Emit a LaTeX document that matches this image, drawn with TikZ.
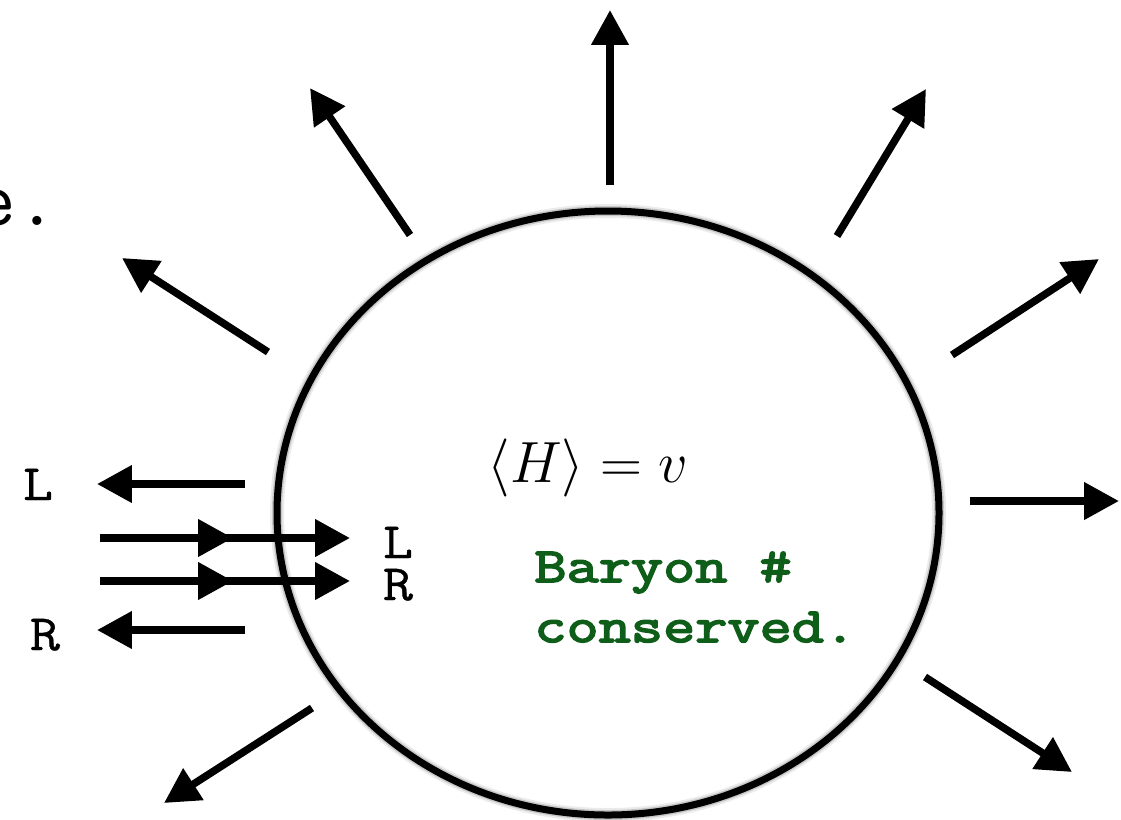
\documentclass[tikz,border=0pt]{standalone}
\usepackage{fontspec}
\newfontfamily\grtt{Latin Modern Mono}[FakeBold=3.5, FakeStretch=1.27]
\newfontfamily\labtt{Latin Modern Mono}[FakeBold=0.8, FakeStretch=1.15]
\usetikzlibrary{arrows.meta}
\definecolor{bgreen}{RGB}{14,94,26}
\begin{document}
\begin{tikzpicture}[x=0.02cm, y=-0.02cm,
  ray/.style={line width=0.15cm, -{Triangle[length=0.7cm, width=0.72cm]}},
  rim/.style={line width=0.14cm, black},
  ttlab/.style={inner sep=0, anchor=base, font=\fontsize{29pt}{34pt}\selectfont\labtt},
  grtext/.style={inner sep=0, anchor=base west, text=bgreen, font=\fontsize{28pt}{34pt}\selectfont\grtt}]
\useasboundingbox (0,0) rectangle (1121,819);
\clip (0,0) rectangle (1121,819);
% cut-off text at top left
\node[inner sep=0, anchor=base east, font=\fontsize{46pt}{50pt}\selectfont\ttfamily] (cut) at (58,225) {e.};
% bubble
\coordinate (c) at (608,513);
\draw[line width=0.28cm, black!8] (c) ellipse [x radius=331, y radius=302];
\draw[line width=0.2cm, black!22] (c) ellipse [x radius=331, y radius=302];
\draw[rim] (c) ellipse [x radius=331, y radius=302];
% outgoing rays
\coordinate (s1) at (610,185);  \coordinate (t1) at (610,10);
\coordinate (s2) at (410,235);  \coordinate (t2) at (310,88);
\coordinate (s3) at (268,352);  \coordinate (t3) at (122,258);
\coordinate (s4) at (837,236);  \coordinate (t4) at (926,89);
\coordinate (s5) at (952,355);  \coordinate (t5) at (1099,259);
\coordinate (s6) at (970,501);  \coordinate (t6) at (1119,501);
\coordinate (s7) at (925,677);  \coordinate (t7) at (1072,772);
\coordinate (s8) at (312,708);  \coordinate (t8) at (164,803);
\foreach \i in {1,...,8} \draw[ray] (s\i) -- (t\i);
% reflected L and R
\coordinate (lr1) at (245,484); \coordinate (lr2) at (97,484);
\coordinate (rr1) at (245,630); \coordinate (rr2) at (97,630);
\draw[ray] (lr1) -- (lr2);
\draw[ray] (rr1) -- (rr2);
% transmitted L and R
\coordinate (a1) at (100,538); \coordinate (m1) at (233,538); \coordinate (b1) at (350,538);
\coordinate (a2) at (100,581); \coordinate (m2) at (233,581); \coordinate (b2) at (350,581);
\draw[ray] (a1) -- (b1);
\draw[ray] (a1) -- (m1);
\draw[ray] (a2) -- (b2);
\draw[ray] (a2) -- (m2);
% labels
\node[ttlab] (L1) at (38,500) {L};
\node[ttlab] (R1) at (45,650) {R};
\node[ttlab] (L2) at (398,558) {L};
\node[ttlab] (R2) at (398,600) {R};
\node[inner sep=0, anchor=base] (vev) at (588,482) {\scalebox{1.33}{\Huge$\langle H\rangle = v$}};
\node[grtext] (bary) at (534,582) {Baryon \#};
\node[grtext] (cons) at (534,642) {conserved.};
\end{tikzpicture}
\end{document}
